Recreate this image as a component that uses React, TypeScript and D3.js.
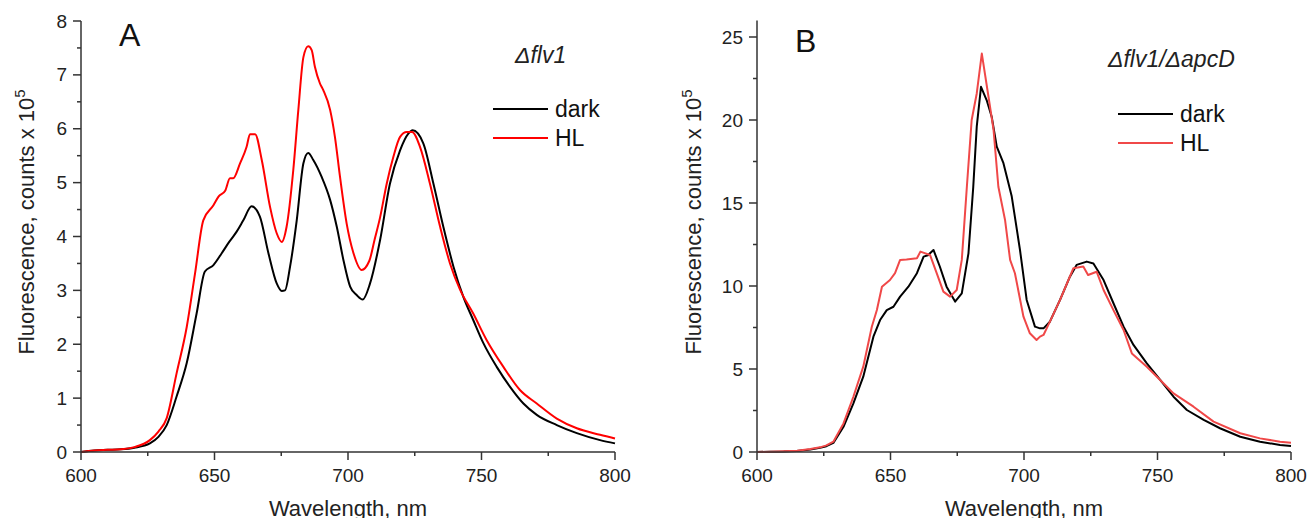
import React from "react";
import * as d3 from "d3";

// ---------- data ----------
const darkA_wl = [600,605,610,615,620,625.8,629,632.1,635.8,639.6,643.3,646.4,649.6,652.7,655.5,658.3,660.8,663.9,667.0,670.2,673.3,675.2,676.4,678.3,680.8,683.3,685.1,687.0,690.1,693.3,695.8,698.3,700.8,703.3,705.5,708.2,712,715.7,719.5,722.6,724.2,728.2,732,735.7,739.5,743.2,746.9,750.7,755.7,760.7,765.7,770.7,778.2,785.7,794.4,800];
const darkA_val = [0.00,0.03,0.04,0.05,0.08,0.16,0.28,0.50,1.03,1.65,2.57,3.35,3.47,3.69,3.90,4.09,4.30,4.56,4.37,3.69,3.13,2.99,3.00,3.44,4.30,5.36,5.55,5.42,5.11,4.68,4.18,3.56,3.07,2.91,2.83,3.12,3.93,4.98,5.60,5.91,5.97,5.73,4.98,4.18,3.44,2.88,2.45,2.02,1.58,1.21,0.90,0.69,0.50,0.35,0.22,0.16];

const hlA_wl = [600,605,610,615,620,625.8,629,632.1,635.8,639.6,642.7,645.8,649.6,651.5,654,655.8,657,659.6,662,663.3,665.2,667.7,670.8,673.3,675.2,677.0,679.5,681.4,683.3,685.1,686.4,687.6,689.5,690.7,693.3,695.1,697,699.5,702,705.1,708,710,712,714.5,717,719.5,722,724,727,730.7,734.5,738.2,742,746.9,751.9,758.2,764.4,770.7,778.2,785.7,794.4,800];
const hlA_val = [0.00,0.03,0.04,0.05,0.09,0.22,0.38,0.63,1.46,2.32,3.31,4.30,4.58,4.74,4.85,5.08,5.08,5.36,5.66,5.90,5.90,5.42,4.55,4.06,3.90,4.18,5.23,6.35,7.33,7.53,7.46,7.15,6.84,6.72,6.35,5.85,5.11,4.24,3.70,3.38,3.55,3.95,4.35,4.98,5.48,5.85,5.94,5.94,5.66,4.98,4.18,3.50,3.01,2.57,2.08,1.58,1.15,0.90,0.62,0.44,0.32,0.25];

const darkB_wl = [600,605,610,615,620,623.6,626,628.6,632.4,636.1,639.8,643.6,646.1,648.6,651.1,653.6,656.7,659.9,662.4,664,666.1,668.5,671.0,674.2,676.7,679.2,681.0,682.3,683.9,686.0,687.9,689.8,692.3,695.4,698.5,701,704.1,706,707.3,709.7,713.5,717.2,719.7,723.5,726,729.8,733.5,737.3,741,746,751,756,761,767.3,773.4,781,788.4,795.9,800];
const darkB_val = [0.00,0.02,0.03,0.06,0.15,0.25,0.35,0.55,1.52,2.93,4.54,6.95,7.95,8.55,8.75,9.36,9.96,10.77,11.77,11.85,12.17,11.16,9.96,9.06,9.56,11.97,15.98,19.6,22.0,21.2,20.2,18.4,17.4,15.4,12.17,9.16,7.55,7.45,7.45,7.85,9.16,10.56,11.27,11.47,11.36,10.36,8.96,7.55,6.45,5.34,4.34,3.33,2.53,1.93,1.43,0.92,0.62,0.42,0.36];

const hlB_wl = [600,605,610,615,620,623.6,626,628.6,632.4,636.1,639.8,643,644.9,646.8,649.8,651.7,653.6,656,659.9,661.2,664.8,667.3,669.8,672.3,674.8,676.7,678.6,680.4,682.3,684.2,686.7,688.6,690.4,692.9,694.8,696.6,699.8,702.2,704.7,706,707.3,709.7,713.5,718.5,722.2,724,727.2,729.8,733.5,737.3,740.4,746,751,756,763.5,771,781,788.4,795.9,800];
const hlB_val = [0.00,0.02,0.04,0.07,0.18,0.28,0.40,0.62,1.72,3.33,5.14,7.55,8.55,9.96,10.36,10.77,11.57,11.6,11.67,12.07,11.87,10.77,9.66,9.36,9.76,11.57,15.98,20.0,21.6,24.0,21.4,19.4,15.98,13.98,11.57,10.77,8.15,7.15,6.75,6.95,7.05,7.85,9.16,11.07,11.17,10.66,10.86,9.76,8.55,7.35,5.94,5.14,4.34,3.53,2.73,1.83,1.13,0.82,0.62,0.56];

const xTicks = [600, 650, 700, 750, 800];
const xMinor = [625, 675, 725, 775];
const yTicksA = [0, 1, 2, 3, 4, 5, 6, 7, 8];
const yMinorA = [0.5, 1.5, 2.5, 3.5, 4.5, 5.5, 6.5, 7.5];
const yTicksB = [0, 5, 10, 15, 20, 25];
const yMinorB = [2.5, 7.5, 12.5, 17.5, 22.5];
const legendLabels = ["dark", "HL"];

const FONT = "Arial, 'Liberation Sans', sans-serif";
const AXIS = "#333";

type Series = { wl: number[]; val: number[]; color: string };

function Panel(props: {
  left: number; right: number; top: number; bottom: number;
  yMax: number; yTop: number; yTicks: number[]; yMinor: number[];
  series: Series[]; letter: string; letterX: number; letterY: number;
  title: React.ReactNode; titleX: number; titleY: number;
  legX: number; legY: number; titleLabelX: number; curve: any;
}) {
  const p = props;
  const x = d3.scaleLinear().domain([600, 800]).range([p.left, p.right]);
  const y = d3.scaleLinear().domain([0, p.yMax]).range([p.bottom, p.top]);
  const yAxisTop = y(p.yTop);
  const line = (s: Series) =>
    d3.line<number>().x((_, i) => x(s.wl[i])).y((d) => y(d)).curve(p.curve)(s.val) || "";
  return (
    <g fontFamily={FONT}>
      {p.series.map((s, i) => (
        <path key={i} d={line(s)} fill="none" stroke={s.color} strokeWidth={2} strokeLinejoin="round" />
      ))}
      <line x1={p.left} x2={p.left} y1={yAxisTop} y2={p.bottom} stroke={AXIS} strokeWidth={1.5} />
      <line x1={p.left} x2={p.right} y1={p.bottom} y2={p.bottom} stroke={AXIS} strokeWidth={1.5} />
      {p.yTicks.map((t) => (
        <g key={"yt" + t}>
          <line x1={p.left - 8} x2={p.left} y1={y(t)} y2={y(t)} stroke={AXIS} strokeWidth={1.5} />
          <text x={p.left - 14} y={y(t) + 6.5} textAnchor="end" fontSize={19} fill="#222">{t}</text>
        </g>
      ))}
      {p.yMinor.map((t) => (
        <line key={"ym" + t} x1={p.left - 4} x2={p.left} y1={y(t)} y2={y(t)} stroke={AXIS} strokeWidth={1.5} />
      ))}
      {xTicks.map((t) => (
        <g key={"xt" + t}>
          <line x1={x(t)} x2={x(t)} y1={p.bottom} y2={p.bottom + 8} stroke={AXIS} strokeWidth={1.5} />
          <text x={x(t)} y={p.bottom + 30} textAnchor="middle" fontSize={19} fill="#222">{t}</text>
        </g>
      ))}
      {xMinor.map((t) => (
        <line key={"xm" + t} x1={x(t)} x2={x(t)} y1={p.bottom} y2={p.bottom + 4} stroke={AXIS} strokeWidth={1.5} />
      ))}
      <text x={(p.left + p.right) / 2} y={516} textAnchor="middle" fontSize={22} fill="#222">Wavelength, nm</text>
      <text transform={`translate(${p.titleLabelX},${222}) rotate(-90)`} textAnchor="middle" fontSize={22} fill="#222">
        Fluorescence, counts x 10<tspan dy={-9} fontSize={15}>5</tspan>
      </text>
      <text x={p.letterX} y={p.letterY} fontSize={32} fill="#111">{p.letter}</text>
      <text x={p.titleX} y={p.titleY} fontSize={23} fontStyle="italic" fill="#222">{p.title}</text>
      {p.series.map((s, i) => (
        <g key={"lg" + i}>
          <line x1={p.legX} x2={p.legX + 55} y1={p.legY + i * 29} y2={p.legY + i * 29} stroke={s.color} strokeWidth={2} />
          <text x={p.legX + 62} y={p.legY + i * 29 + 8} fontSize={23} fill="#111">{legendLabels[i]}</text>
        </g>
      ))}
    </g>
  );
}

export default function App() {
  return (
    <svg width={1307} height={518} style={{ position: "absolute", left: 0, top: 0, background: "#fff" }}>
      <rect width={1307} height={518} fill="#fff" />
      <Panel
        left={81} right={615} top={21} bottom={452} yMax={8} yTop={8}
        yTicks={yTicksA} yMinor={yMinorA}
        series={[
          { wl: darkA_wl, val: darkA_val, color: "#000" },
          { wl: hlA_wl, val: hlA_val, color: "#ff0000" },
        ]}
        letter="A" letterX={119} letterY={46}
        title={<>Δflv1</>} titleX={515} titleY={63}
        legX={493} legY={109} titleLabelX={34}
        curve={d3.curveMonotoneX}
      />
      <Panel
        left={757} right={1291} top={37} bottom={452} yMax={25} yTop={26}
        yTicks={yTicksB} yMinor={yMinorB}
        series={[
          { wl: darkB_wl, val: darkB_val, color: "#000" },
          { wl: hlB_wl, val: hlB_val, color: "#f04848" },
        ]}
        letter="B" letterX={795} letterY={52}
        title={<>Δflv1/ΔapcD</>} titleX={1108} titleY={67}
        legX={1118} legY={114} titleLabelX={701}
        curve={d3.curveLinear}
      />
    </svg>
  );
}
